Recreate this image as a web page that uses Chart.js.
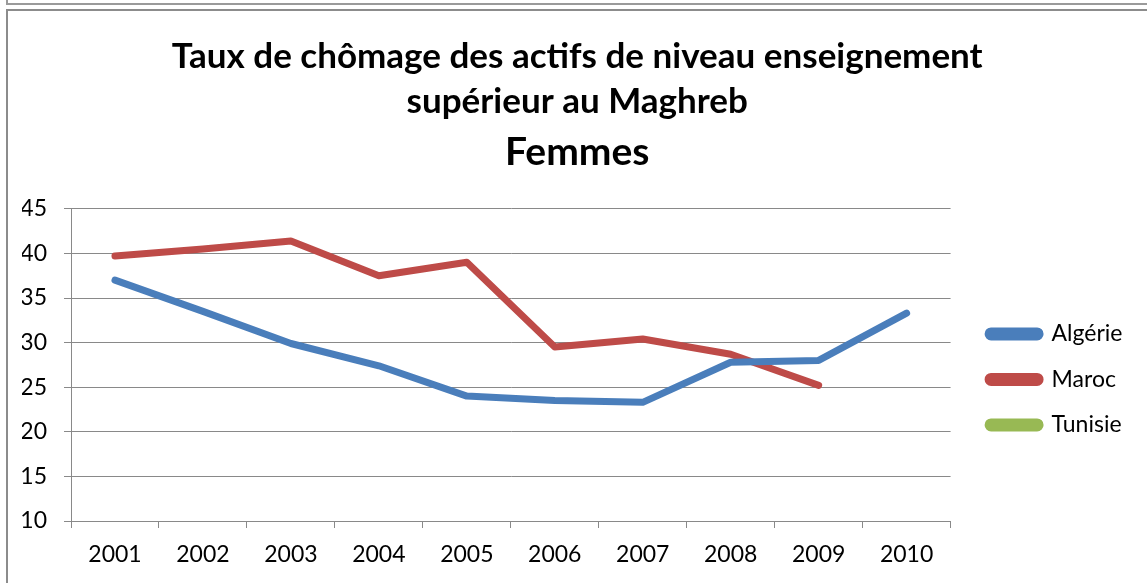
<!DOCTYPE html>
<html>
<head>
<meta charset="utf-8">
<script src="https://cdn.jsdelivr.net/npm/chart.js@4"></script>
<style>
  html, body { margin: 0; padding: 0; background: #fff; overflow: hidden; }
  #wrap { position: absolute; left: 0; top: 0; width: 1147px; height: 583px; }
  canvas { position: absolute; left: 22px; top: 0; }
  .frame { position: absolute; pointer-events: none; box-sizing: border-box; }
  #f1 { left: 6px; top: -20px; width: 2000px; height: 25px; border: 2px solid #9a9a9a; }
  #f2 { left: 6px; top: 9px; width: 2000px; height: 2000px; border: 2px solid #8c8c8c; }
</style>
</head>
<body>
<div id="wrap"><canvas id="c" width="1125" height="583"></canvas></div>
<div class="frame" id="f1"></div>
<div class="frame" id="f2"></div>
<script>
const years = ['2001','2002','2003','2004','2005','2006','2007','2008','2009','2010'];
const algerie = [37.0, 33.5, 29.9, 27.4, 24.0, 23.5, 23.3, 27.8, 28.0, 33.3];
const maroc   = [39.7, 40.5, 41.4, 37.5, 39.0, 29.5, 30.4, 28.7, 25.2, null];
const tunisie = [null, null, null, null, null, null, null, null, null, null];
const seriesNames = ['Algérie', 'Maroc', 'Tunisie'];
const titleLines = ['Taux de chômage des actifs de niveau enseignement', 'supérieur au Maghreb'];
const subtitleText = 'Femmes';
const yMin = 10, yMax = 45, yStep = 5;

const FONT = 'Lato, "Open Sans", sans-serif';
const GRID = '#898989';
const CANVAS_LEFT = 22;

function ds(label, data, color) {
  return {
    label, data,
    borderColor: color, backgroundColor: color,
    borderWidth: 7, pointRadius: 0, pointHoverRadius: 0,
    borderCapStyle: 'round', borderJoinStyle: 'round',
    tension: 0, spanGaps: false
  };
}

new Chart(document.getElementById('c'), {
  type: 'line',
  data: {
    labels: years,
    datasets: [
      ds(seriesNames[0], algerie, '#4A7EBB'),
      ds(seriesNames[1], maroc, '#BE4B48'),
      ds(seriesNames[2], tunisie, '#98B954')
    ]
  },
  options: {
    responsive: false,
    animation: false,
    devicePixelRatio: 1,
    layout: { padding: { left: 0, right: 14.5, top: 0, bottom: 0 } },
    plugins: {
      title: {
        display: true,
        text: titleLines,
        color: '#000',
        font: { family: FONT, size: 35, weight: 'bold', lineHeight: 45/35 },
        padding: { top: 34, bottom: 0 }
      },
      subtitle: {
        display: true,
        text: subtitleText,
        color: '#000',
        font: { family: FONT, size: 39, weight: 'bold', lineHeight: 1.2 },
        padding: { top: 5, bottom: 33 }
      },
      legend: {
        display: true,
        position: 'right',
        fullSize: false,
        align: 'center',
        title: { display: true, text: ' ', font: { size: 10 }, padding: 8.5 },
        labels: {
          color: '#000',
          font: { family: FONT, size: 23 },
          boxWidth: 52,
          boxHeight: 6,
          padding: 22.5,
          useBorderRadius: true,
          borderRadius: 3
        }
      },
      tooltip: { enabled: false }
    },
    scales: {
      x: {
        type: 'category',
        offset: true,
        grid: { offset: true, drawOnChartArea: false, drawTicks: true, tickLength: 7, color: GRID, lineWidth: 1 },
        border: { display: true, color: GRID, width: 1 },
        ticks: { color: '#000', font: { family: FONT, size: 23 }, padding: 13, maxRotation: 0, autoSkip: false },
        afterFit: s => { s.height = 62; }
      },
      y: {
        type: 'linear',
        position: 'left',
        min: yMin, max: yMax,
        grid: { color: GRID, lineWidth: 1, drawTicks: true, tickLength: 7 },
        border: { display: true, color: GRID, width: 1 },
        ticks: { stepSize: yStep, color: '#000', font: { family: FONT, size: 23 }, padding: 17 },
        afterFit: s => { s.width = 71 - CANVAS_LEFT; }
      },
      spacer: {
        type: 'linear',
        position: 'right',
        display: true,
        grid: { display: false, drawTicks: false },
        border: { display: false },
        ticks: { display: false },
        afterFit: s => { s.width = 15; }
      }
    }
  }
});
</script>
</body>
</html>
